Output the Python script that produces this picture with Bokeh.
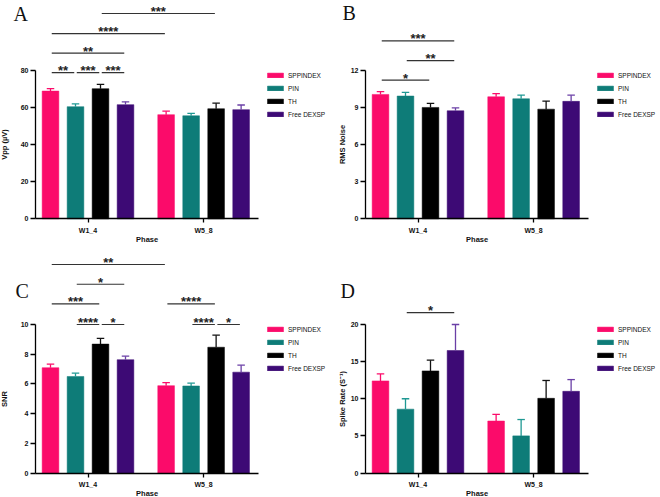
from bokeh.plotting import figure
from bokeh.layouts import column, row
from bokeh.models import Range1d, FixedTicker, Legend, LegendItem, Label
from bokeh.core.properties import value
from bokeh.embed import file_html
from bokeh.resources import INLINE

series = ["SPPINDEX", "PIN", "TH", "Free DEXSP"]
phases = ["W1_4", "W5_8"]

# Vpp (µV): mean and SEM per group
vpp_w1_4 = [68.8, 60.4, 70.1, 61.5]
vpp_w5_8 = [56.1, 55.5, 59.3, 58.8]
vpp_sem_w1_4 = [1.3, 1.5, 2.3, 1.5]
vpp_sem_w5_8 = [1.9, 1.3, 3.0, 2.5]

# RMS noise
rms_w1_4 = [10.05, 9.92, 9.0, 8.73]
rms_w5_8 = [9.86, 9.7, 8.86, 9.49]
rms_sem_w1_4 = [0.22, 0.3, 0.32, 0.23]
rms_sem_w5_8 = [0.25, 0.3, 0.65, 0.5]

# SNR
snr_w1_4 = [7.09, 6.5, 8.68, 7.63]
snr_w5_8 = [5.88, 5.86, 8.47, 6.79]
snr_sem_w1_4 = [0.24, 0.22, 0.38, 0.24]
snr_sem_w5_8 = [0.2, 0.19, 0.81, 0.47]

# Spike rate (S^-1)
spike_w1_4 = [12.4, 8.6, 13.75, 16.5]
spike_w5_8 = [7.0, 5.0, 10.06, 11.0]
spike_sem_w1_4 = [0.95, 1.4, 1.45, 3.5]
spike_sem_w5_8 = [0.9, 2.2, 2.4, 1.58]

# significance brackets: bar index (phase * 4 + series) from / to, height, stars
vpp_sig_from = [0, 1, 2, 0, 0, 2]
vpp_sig_to = [1, 2, 3, 3, 4, 6]
vpp_sig_y = [78.8, 78.8, 78.8, 89.3, 99.8, 110.6]
vpp_sig_text = ["**", "***", "***", "**", "****", "***"]

rms_sig_from = [0, 1, 0]
rms_sig_to = [2, 3, 3]
rms_sig_y = [11.2, 12.78, 14.37]
rms_sig_text = ["*", "**", "***"]

snr_sig_from = [1, 2, 5, 6, 0, 4, 1, 0]
snr_sig_to = [2, 3, 6, 7, 2, 6, 3, 4]
snr_sig_y = [10.0, 10.0, 10.0, 10.0, 11.39, 11.39, 12.71, 14.04]
snr_sig_text = ["****", "*", "****", "*", "***", "****", "*", "**"]

spike_sig_from = [1]
spike_sig_to = [3]
spike_sig_y = [21.6]
spike_sig_text = ["*"]

bar_colors = ["#FB0B6A", "#0E7C78", "#000000", "#3D0A75"]
cap_colors = ["#FB0B6A", "#1F9893", "#111111", "#6A3FA6"]

FONT = "Liberation Sans"
group_centers = [1.5, 6.125]
bar_offsets = [-1.5, -0.5, 0.5, 1.5]
AXIS_PX = 148.5      # pixel length of the drawn y axis
X_START = -2.0       # left edge of the panel, in bar units
Y_AXIS_AT = -0.6     # where the y axis is drawn, in bar units
X_AXIS_END = 8.33    # right end of the x axis line, in bar units


def make_panel(letter, letter_xy, ylabel, label_standoff,
               means, sems, ymax, ystep, sig_from, sig_to, sig_y, sig_text,
               height, px_below, legend_y, phase_y):
    px_above = height - px_below
    unit = ymax / AXIS_PX
    p = figure(width=330, height=height, title=None,
               x_range=Range1d(X_START, 11.2),
               y_range=Range1d(-px_below * unit, px_above * unit),
               output_backend="svg", toolbar_location=None,
               min_border_left=0, min_border_right=0,
               min_border_top=0, min_border_bottom=0)
    p.outline_line_color = None
    p.xgrid.visible = False
    p.ygrid.visible = False
    p.background_fill_color = "white"
    p.border_fill_color = "white"

    items = []
    for s, name in enumerate(series):
        xs = [group_centers[g] + bar_offsets[s] for g in range(2)]
        tops = [means[g][s] for g in range(2)]
        ends = [means[g][s] + sems[g][s] for g in range(2)]
        r = p.vbar(x=xs, top=tops, bottom=0, width=0.667,
                   fill_color=bar_colors[s], line_color=bar_colors[s], line_width=0.5)
        p.segment(x0=xs, y0=tops, x1=xs, y1=ends,
                  line_color=cap_colors[s], line_width=1.3)
        p.segment(x0=[x - 0.15 for x in xs], y0=ends,
                  x1=[x + 0.15 for x in xs], y1=ends,
                  line_color=cap_colors[s], line_width=1.3)
        items.append(LegendItem(label=name, renderers=[r]))

    bar_x = [group_centers[g] + bar_offsets[s] for g in range(2) for s in range(4)]
    x0 = [bar_x[f] + 0.05 for f in sig_from]
    x1 = [bar_x[t] - 0.05 for t in sig_to]
    p.segment(x0=x0, y0=sig_y, x1=x1, y1=sig_y, line_color="#333333", line_width=1.2)
    p.text(x=[(a + b) / 2 for a, b in zip(x0, x1)], y=sig_y, text=sig_text,
           text_align="center", text_baseline="middle", y_offset=-2,
           text_font=value(FONT), text_font_style="bold",
           text_font_size="13px", text_color="#222222")

    legend = Legend(items=items, location=(265, legend_y), orientation="vertical",
                    glyph_width=20, glyph_height=6, label_height=10,
                    label_standoff=3, spacing=3, padding=0, margin=0,
                    border_line_color=None, background_fill_alpha=0,
                    label_text_font=FONT, label_text_font_size="6.5px",
                    label_text_color="#111111")
    p.add_layout(legend)

    # panel letter in the top-left corner
    p.add_layout(Label(x=letter_xy[0], y=letter_xy[1], x_units="screen", y_units="screen",
                       text=letter, text_font="Liberation Serif", text_font_size="20px",
                       text_baseline="middle", text_align="left",
                       text_color="#111111"))
    # x axis title, centred under the drawn axis line
    p.add_layout(Label(x=(Y_AXIS_AT + X_AXIS_END) / 2, y=phase_y, y_units="screen",
                       text="Phase", text_font=FONT, text_font_size="7.5px",
                       text_font_style="bold", text_baseline="middle",
                       text_align="center", text_color="#111111"))

    xa = p.xaxis[0]
    xa.fixed_location = 0
    xa.ticker = FixedTicker(ticks=group_centers)
    xa.major_label_overrides = {group_centers[g]: phases[g] for g in range(2)}
    xa.bounds = (Y_AXIS_AT, X_AXIS_END)
    ya = p.yaxis[0]
    ya.fixed_location = Y_AXIS_AT
    ya.ticker = FixedTicker(ticks=[i * ystep for i in range(int(round(ymax / ystep)) + 1)])
    ya.bounds = (0, ymax)
    ya.axis_label = ylabel
    ya.axis_label_standoff = label_standoff
    ya.major_tick_out = 5
    ya.major_label_standoff = 2
    xa.major_tick_out = 4
    xa.major_label_standoff = 4
    for ax in (xa, ya):
        ax.axis_line_color = "black"
        ax.axis_line_width = 1.3
        ax.major_tick_line_width = 1.3
        ax.major_tick_in = 0
        ax.minor_tick_line_color = None
        ax.major_label_text_font = FONT
        ax.major_label_text_font_style = "bold"
        ax.major_label_text_font_size = "7px"
        ax.major_label_text_color = "#111111"
        ax.axis_label_text_font = FONT
        ax.axis_label_text_font_style = "bold"
        ax.axis_label_text_font_size = "7.5px"
        ax.axis_label_text_color = "#111111"
    return p


# top row: 252 px tall, axis zero 33.7 px above the bottom edge
pa = make_panel("A", (13, 238.5), "Vpp (µV)", 9,
                [vpp_w1_4, vpp_w5_8], [vpp_sem_w1_4, vpp_sem_w5_8], 80, 20,
                vpp_sig_from, vpp_sig_to, vpp_sig_y, vpp_sig_text, 252, 33.7, 132.7, 12.7)
pb = make_panel("B", (12, 240), "RMS Noise", 1,
                [rms_w1_4, rms_w5_8], [rms_sem_w1_4, rms_sem_w5_8], 12, 3,
                rms_sig_from, rms_sig_to, rms_sig_y, rms_sig_text, 252, 33.7, 132.7, 12.7)
# bottom row: 245 px tall, axis zero 24.5 px above the bottom edge
pc = make_panel("C", (15, 206.5), "SNR", 9,
                [snr_w1_4, snr_w5_8], [snr_sem_w1_4, snr_sem_w5_8], 10, 2,
                snr_sig_from, snr_sig_to, snr_sig_y, snr_sig_text, 245, 24.5, 124, 4.5)
pd_ = make_panel("D", (10, 207), "Spike Rate (S⁻¹)", 1,
                 [spike_w1_4, spike_w5_8], [spike_sem_w1_4, spike_sem_w5_8], 20, 5,
                 spike_sig_from, spike_sig_to, spike_sig_y, spike_sig_text, 245, 24.5, 124, 4.5)

layout = column(row(pa, pb, spacing=0), row(pc, pd_, spacing=0), spacing=0)
open("out.html", "w").write(file_html(layout, INLINE))
